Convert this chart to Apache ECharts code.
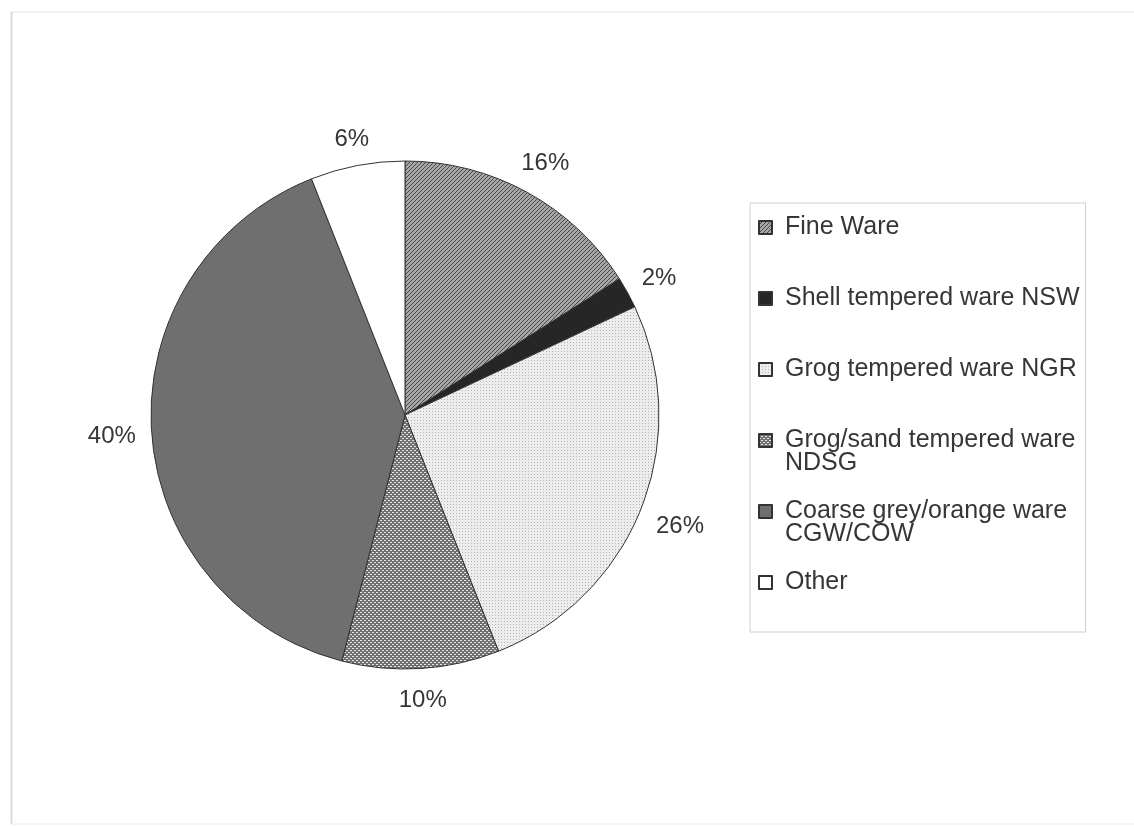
<!DOCTYPE html>
<html>
<head>
<meta charset="utf-8">
<script src="https://cdn.jsdelivr.net/npm/echarts@6/dist/echarts.min.js"></script>
<style>
  html, body { margin: 0; padding: 0; background: #fff; }
  #chart { width: 1134px; height: 826px; }
</style>
</head>
<body>
<div id="chart"></div>
<script>
// pottery fabric shares (%)
const categories = [
  'Fine Ware',
  'Shell tempered ware NSW',
  'Grog tempered ware NGR',
  'Grog/sand tempered ware NDSG',
  'Coarse grey/orange ware CGW/COW',
  'Other'
];
const values = [16, 2, 26, 10, 40, 6];
// legend text is split over two lines for the long names
const legendFirstLine = ['Fine Ware', 'Shell tempered ware NSW', 'Grog tempered ware NGR', 'Grog/sand tempered ware', 'Coarse grey/orange ware', 'Other'];
const legendSecondLine = ['', '', '', 'NDSG', 'CGW/COW', ''];

const FONT = '"Liberation Sans", Arial, sans-serif';
const CX = 405, CY = 415, R = 254;
const LEG_TOP = 203, LEG_PAD = 12, ROW = 71;

// little tiles to imitate the b/w fill patterns
function tile(size, bg, draw) {
  const c = document.createElement('canvas');
  c.width = size; c.height = size;
  const ctx = c.getContext('2d');
  ctx.fillStyle = bg;
  ctx.fillRect(0, 0, size, size);
  draw(ctx);
  return { image: c, repeat: 'repeat' };
}

const hatch = tile(4, '#a6a6a6', ctx => {
  ctx.fillStyle = '#4a4a4a';
  for (let i = 0; i < 4; i++) ctx.fillRect(i, 3 - i, 1, 1);
});
const fineDots = tile(3, '#ededed', ctx => {
  ctx.fillStyle = '#b3b3b3';
  ctx.fillRect(0, 0, 1, 1);
});
const coarseDots = tile(4, '#707070', ctx => {
  ctx.fillStyle = '#e6e6e6';
  ctx.fillRect(0, 0, 2, 1);
  ctx.fillRect(2, 2, 2, 1);
});
const fills = [hatch, '#262626', fineDots, coarseDots, '#6f6f6f', '#ffffff'];

const chart = echarts.init(document.getElementById('chart'));

const pieData = categories.map((name, i) => ({
  name: name,
  value: values[i],
  itemStyle: { color: fills[i] }
}));

// mid angle of every slice (clockwise from 12 o'clock) for label placement
const total = values.reduce((a, b) => a + b, 0);
const midAngles = [];
let acc = 0;
values.forEach(v => {
  midAngles.push((acc + v / 2) / total * Math.PI * 2);
  acc += v;
});

// second lines of the long legend entries
const extraLines = [];
legendSecondLine.forEach((t, i) => {
  if (t) {
    extraLines.push({
      type: 'text',
      x: 785,
      y: LEG_TOP + LEG_PAD + 10 + i * ROW + 25,
      style: { text: t, font: '25px ' + FONT, fill: '#363636', verticalAlign: 'middle' }
    });
  }
});

chart.setOption({
  animation: false,
  backgroundColor: '#fff',
  legend: {
    orient: 'vertical',
    left: 750,
    top: LEG_TOP,
    padding: [LEG_PAD, 6, 37, 8],
    borderColor: '#cfcfcf',
    borderWidth: 1,
    itemWidth: 13,
    itemHeight: 13,
    itemGap: ROW - 25,
    icon: 'rect',
    selectedMode: false,
    data: categories,
    formatter: name => legendFirstLine[categories.indexOf(name)],
    textStyle: {
      fontFamily: FONT,
      fontSize: 25,
      lineHeight: 24,
      color: '#363636',
      padding: [0, 0, 0, 8]
    }
  },
  graphic: [
    { type: 'line', shape: { x1: 11, y1: 12, x2: 1134, y2: 12 }, style: { stroke: '#e2e2e2', lineWidth: 1 } },
    { type: 'line', shape: { x1: 11.5, y1: 12, x2: 11.5, y2: 824 }, style: { stroke: '#dcdcdc', lineWidth: 2 } },
    { type: 'line', shape: { x1: 11, y1: 824, x2: 1134, y2: 824 }, style: { stroke: '#ececec', lineWidth: 1 } }
  ].concat(extraLines),
  series: [{
    type: 'pie',
    center: [CX, CY],
    radius: R,
    startAngle: 90,
    clockwise: true,
    avoidLabelOverlap: false,
    itemStyle: { borderColor: '#333', borderWidth: 1 },
    label: {
      show: true,
      position: 'outside',
      formatter: '{d}%',
      fontFamily: FONT,
      fontSize: 24,
      color: '#363636'
    },
    labelLine: { show: false, length: 20, length2: 0 },
    // put each label box just outside the rim, along the slice's middle
    labelLayout: function (p) {
      const a = midAngles[p.dataIndex];
      const dx = Math.sin(a), dy = -Math.cos(a);
      const w = p.labelRect.width, h = p.labelRect.height;
      const d = R + 15 + Math.abs(dx) * w / 2 + Math.abs(dy) * h / 2;
      return {
        x: CX + dx * d,
        y: CY + dy * d + 3,
        align: 'center',
        verticalAlign: 'middle'
      };
    },
    emphasis: { disabled: true },
    data: pieData
  }]
});
</script>
</body>
</html>
